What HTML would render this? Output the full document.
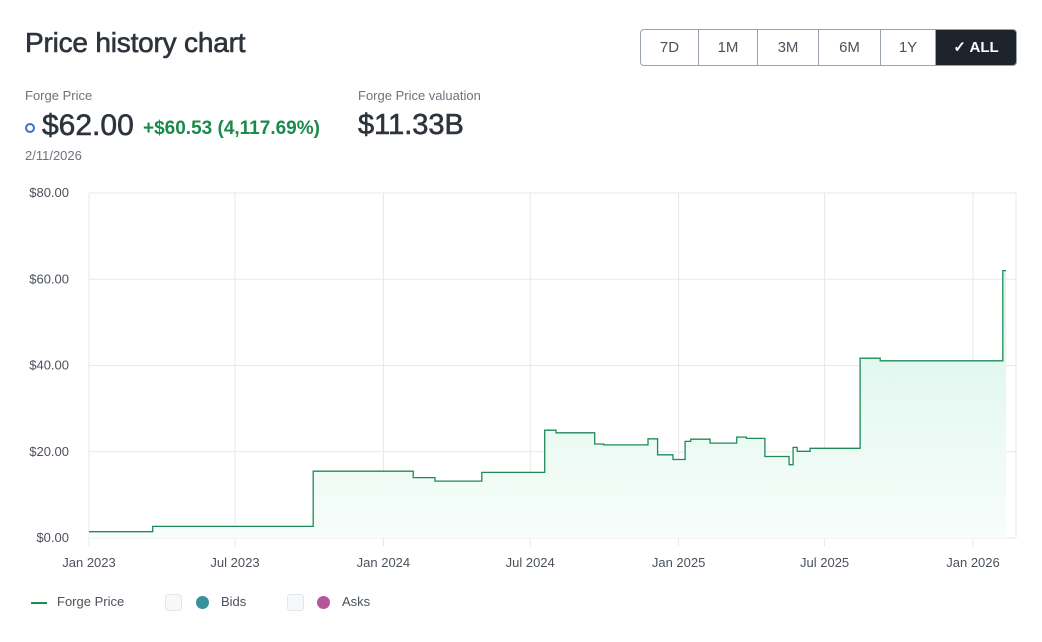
<!DOCTYPE html>
<html><head><meta charset="utf-8">
<style>
body{margin:0;width:1042px;height:642px;background:#fff;font-family:"Liberation Sans",sans-serif;color:#2a2f36;position:relative;overflow:hidden}
.abs{position:absolute}
.btns{left:640px;top:29px;height:35px;display:flex;border:1px solid #9aa3ad;border-radius:4px;overflow:hidden}
.btns div{height:35px;line-height:35px;text-align:center;font-size:15px;color:#4a525c;border-right:1px solid #9aa3ad}
.btns div:last-child{border-right:none;background:#1e242b;color:#fff;font-weight:bold}
.semi{-webkit-text-stroke:0.6px currentColor}
</style></head><body>
<div class="abs semi" style="left:25px;top:27px;font-size:28px;color:#2e343b;letter-spacing:-0.2px">Price history chart</div>
<div class="abs btns">
<div style="width:57px">7D</div>
<div style="width:58px">1M</div>
<div style="width:60px">3M</div>
<div style="width:61px">6M</div>
<div style="width:54px">1Y</div>
<div style="width:80px">✓ ALL</div>
</div>
<div class="abs" style="left:25px;top:88px;font-size:13px;color:#6b737c">Forge Price</div>
<div class="abs" style="left:25px;top:123px;width:6px;height:6px;border:2px solid #3b6fd4;border-radius:50%"></div>
<div class="abs semi" style="left:42px;top:109px;font-size:30px;color:#2e343b">$62.00</div>
<div class="abs" style="left:143px;top:118px;font-size:19px;font-weight:bold;color:#1a8a4a">+$60.53 (4,117.69%)</div>
<div class="abs" style="left:25px;top:148px;font-size:13px;color:#6b737c">2/11/2026</div>
<div class="abs" style="left:358px;top:88px;font-size:13px;color:#6b737c">Forge Price valuation</div>
<div class="abs semi" style="left:358px;top:109px;font-size:29px;color:#2e343b">$11.33B</div>
<svg class="abs" style="left:0;top:0" width="1042" height="642">
<defs><linearGradient id="g" x1="0" y1="0" x2="0" y2="1"><stop offset="0" stop-color="#d8f5ea"/><stop offset="1" stop-color="#f7fdfa"/></linearGradient></defs>
<g id="grid"></g><path id="area" fill="url(#g)"/><path id="line" fill="none" stroke="#1f8a58" stroke-width="1.3"/><g id="ax"></g>
</svg>
<div class="abs" style="left:31px;top:594px;font-size:13px;color:#4a525c;height:18px">
<span class="abs" style="left:0;top:0;white-space:nowrap"><span style="display:inline-block;width:16px;height:2px;background:#1f8a58;vertical-align:middle;margin-right:10px"></span>Forge Price</span>
<span class="abs" style="left:134px;top:0;width:15px;height:15px;border:1px solid #e3e7eb;border-radius:3px;background:#f6f8fa"></span>
<span class="abs" style="left:165px;top:0;white-space:nowrap"><span style="display:inline-block;width:13px;height:13px;border-radius:50%;background:#3a919c;vertical-align:middle;margin-right:12px"></span>Bids</span>
<span class="abs" style="left:256px;top:0;width:15px;height:15px;border:1px solid #e3e7eb;border-radius:3px;background:#f6f8fa"></span>
<span class="abs" style="left:286px;top:0;white-space:nowrap"><span style="display:inline-block;width:13px;height:13px;border-radius:50%;background:#b5569a;vertical-align:middle;margin-right:12px"></span>Asks</span>
</div>
<script>
const dates=["2023-01-01","2023-03-21","2023-10-06","2024-02-07","2024-03-05","2024-05-02","2024-07-19","2024-08-02","2024-09-19","2024-09-30","2024-11-24","2024-12-06","2024-12-25","2025-01-09","2025-01-16","2025-02-09","2025-03-14","2025-03-26","2025-04-18","2025-05-18","2025-05-23","2025-05-28","2025-06-13","2025-08-14","2025-09-08","2026-02-07","2026-02-11"];
const prices=[1.47,2.7,15.5,14,13.2,15.2,25,24.4,21.8,21.6,23,19.3,18.2,22.4,22.9,22,23.4,23.1,18.9,17,21,20.1,20.8,41.7,41.1,62,62];
const yTicks=[0,20,40,60,80];
const yTickLabels=["$0.00","$20.00","$40.00","$60.00","$80.00"];
const xTicks=["2023-01-01","2023-07-01","2024-01-01","2024-07-01","2025-01-01","2025-07-01","2026-01-01"];
const xTickLabels=["Jan 2023","Jul 2023","Jan 2024","Jul 2024","Jan 2025","Jul 2025","Jan 2026"];
const t0=Date.parse("2023-01-01"),t1=Date.parse("2026-01-01");
const X=d=>89+(Date.parse(d)-t0)/(t1-t0)*884;
const Y=v=>538-v*345/80;
const NS="http://www.w3.org/2000/svg";
const grid=document.getElementById('grid'),ax=document.getElementById('ax');
function mk(p,tag,a,txt){const e=document.createElementNS(NS,tag);for(const k in a)e.setAttribute(k,a[k]);if(txt!==undefined)e.textContent=txt;p.appendChild(e);return e;}
yTicks.forEach((v,i)=>{
 const l=mk(grid,'line',{x1:89,x2:1016,y1:Y(v),y2:Y(v),stroke:'#e6e8ec'});
 
 
 const t=mk(ax,'text',{x:69,y:Y(v)+4,'text-anchor':'end','font-size':13,fill:'#4a525c'},yTickLabels[i]);
 
 
});
xTicks.forEach((d,i)=>{
 const l=mk(grid,'line',{x1:X(d),x2:X(d),y1:193,y2:546,stroke:'#e6e8ec'});
 
 
 const t=mk(ax,'text',{x:X(d),y:567,'text-anchor':'middle','font-size':13,fill:'#4a525c'},xTickLabels[i]);
 
 
});
const rb=mk(grid,'line',{x1:1016,x2:1016,y1:193,y2:538,stroke:'#e6e8ec'});


let d='';
dates.forEach((dt,i)=>{const x=X(dt),y=Y(prices[i]);d+=i?` H${x.toFixed(1)} V${y.toFixed(1)}`:`M${x.toFixed(1)} ${y.toFixed(1)}`;});
const line=document.getElementById('line');line.setAttribute('d',d);


const area=document.getElementById('area');
area.setAttribute('d',d+` V538 H${X(dates[0])} Z`);


</script>
</body></html>
